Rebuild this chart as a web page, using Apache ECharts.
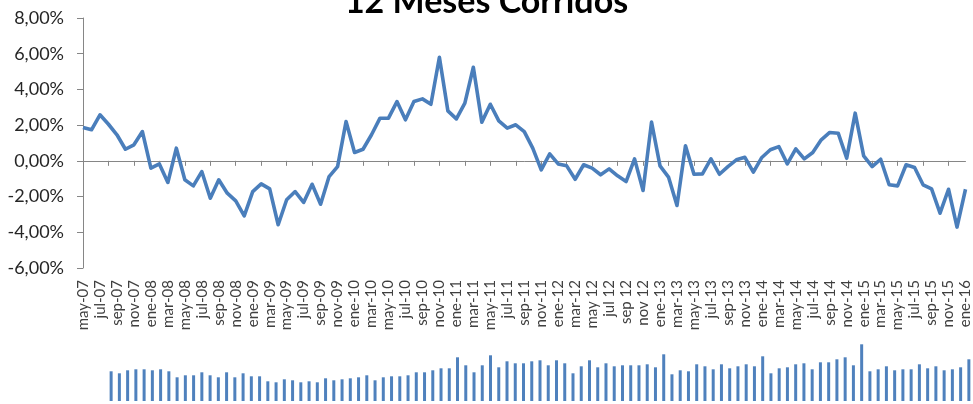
<!DOCTYPE html>
<html>
<head>
<meta charset="utf-8">
<script src="https://cdn.jsdelivr.net/npm/echarts@6/dist/echarts.min.js"></script>
<style>
  html, body { margin: 0; padding: 0; background: #fff; }
  #chart { width: 973px; height: 404px; }
</style>
</head>
<body>
<div id="chart"></div>
<script>
// meses en español, la serie va de may-07 a ene-16
var mesesNombre = ['ene', 'feb', 'mar', 'abr', 'may', 'jun', 'jul', 'ago', 'sep', 'oct', 'nov', 'dic']
var anios = ['07', '08', '09', '10', '11', '12', '13', '14', '15', '16']

// variacion 12 meses corridos (%)
var variacion = [
  1.87, 1.74, 2.58, 2.05, 1.46, 0.65, 0.90, 1.64, -0.41, -0.17,
  -1.21, 0.71, -1.06, -1.40, -0.60, -2.09, -1.06, -1.81, -2.24, -3.08,
  -1.72, -1.29, -1.57, -3.58, -2.18, -1.72, -2.33, -1.31, -2.43, -0.88,
  -0.32, 2.20, 0.47, 0.65, 1.46, 2.39, 2.39, 3.32, 2.30, 3.32,
  3.47, 3.17, 5.80, 2.80, 2.35, 3.23, 5.24, 2.17, 3.17, 2.24,
  1.83, 2.02, 1.64, 0.71, -0.50, 0.39, -0.17, -0.28, -1.03, -0.22,
  -0.41, -0.78, -0.45, -0.84, -1.16, 0.11, -1.66, 2.17, -0.28, -0.91,
  -2.50, 0.84, -0.75, -0.73, 0.11, -0.75, -0.32, 0.06, 0.20, -0.63,
  0.19, 0.62, 0.80, -0.17, 0.67, 0.11, 0.47, 1.18, 1.59, 1.55,
  0.15, 2.67, 0.28, -0.32, 0.09, -1.34, -1.40, -0.22, -0.37, -1.34,
  -1.57, -2.93, -1.59, -3.71, -1.59
]

// grafico de barras pequeño de abajo (valores relativos)
var barras = [
  29.7, 27.7, 30.7, 31.7, 31.7, 30.7, 31.7, 29.7, 23.7, 25.7,
  25.7, 28.7, 25.7, 23.7, 28.7, 23.7, 27.7, 24.7, 24.7, 19.7,
  18.7, 21.7, 20.7, 18.7, 19.7, 18.7, 22.7, 20.7, 21.7, 22.7,
  23.7, 25.7, 20.7, 23.7, 24.7, 24.7, 25.7, 28.7, 28.7, 30.7,
  32.7, 32.7, 43.7, 35.7, 28.7, 35.7, 45.7, 33.7, 39.7, 37.7,
  37.7, 39.7, 40.7, 35.7, 40.7, 37.7, 27.7, 34.7, 40.7, 33.7,
  37.7, 34.7, 35.7, 35.7, 35.7, 36.7, 33.7, 46.7, 26.7, 30.7,
  29.7, 36.7, 34.7, 31.7, 36.7, 32.7, 34.7, 36.7, 34.7, 44.7,
  27.7, 32.7, 33.7, 36.7, 37.7, 31.7, 38.7, 38.7, 41.7, 43.7,
  35.7, 56.7, 29.7, 31.7, 34.7, 30.7, 31.7, 31.7, 36.7, 32.7,
  34.7, 30.7, 31.7, 33.7, 41.7
]

var categorias = []
for (var a = 0; a < anios.length; a++) {
  for (var m = 0; m < 12; m++) {
    if (a === 0 && m < 4) continue
    if (a === anios.length - 1 && m > 0) continue
    // en 2012 el excel trae las etiquetas con espacio
    var sep = (anios[a] === '12' && m >= 4) ? ' ' : '-'
    categorias.push(mesesNombre[m] + sep + anios[a])
  }
}
var catBarras = categorias.slice(0, barras.length)

var azul = '#4a7ebb'
var gris = '#868686'

var option = {
  animation: false,
  graphic: [{
    type: 'text',
    left: 'center',
    top: -15,
    style: {
      text: '12 Meses Corridos',
      font: 'bold 34px Lato',
      fill: '#000'
    }
  }],
  grid: [
    { left: 83, right: 5, top: 18, bottom: 136 },
    { left: 107, right: 0, top: 341, bottom: 3 }
  ],
  xAxis: [
    {
      type: 'category',
      gridIndex: 0,
      data: categorias,
      boundaryGap: false,
      position: 'bottom',
      axisLine: { show: false, onZero: false },
      axisTick: { show: false },
      axisLabel: {
        interval: 1,
        rotate: 90,
        margin: 12,
        fontFamily: 'Lato',
        fontSize: 15,
        color: '#404040'
      }
    },
    {
      type: 'category',
      gridIndex: 0,
      data: categorias,
      boundaryGap: false,
      position: 'top',
      axisLine: { show: true, onZero: true, lineStyle: { color: gris, width: 1 } },
      axisTick: { show: true, inside: true, interval: 2, length: 5, lineStyle: { color: gris } },
      axisLabel: { show: false }
    },
    {
      type: 'category',
      gridIndex: 1,
      data: catBarras,
      show: false
    }
  ],
  yAxis: [
    {
      type: 'value',
      gridIndex: 0,
      min: -6,
      max: 8,
      interval: 2,
      axisLine: { show: true, lineStyle: { color: gris } },
      axisTick: { show: true, length: 6, lineStyle: { color: gris } },
      splitLine: { show: false },
      axisLabel: {
        margin: 19,
        fontFamily: 'Lato',
        fontSize: 18,
        color: '#262626',
        formatter: function (v) {
          return v.toFixed(2).replace('.', ',') + '%'
        }
      }
    },
    {
      type: 'value',
      gridIndex: 1,
      min: 0,
      max: 60,
      show: false
    }
  ],
  series: [
    {
      name: '12 Meses Corridos',
      type: 'line',
      xAxisIndex: 0,
      yAxisIndex: 0,
      data: variacion,
      symbol: 'none',
      lineStyle: { color: azul, width: 3.6, join: 'round' }
    },
    {
      name: 'barras',
      type: 'bar',
      xAxisIndex: 2,
      yAxisIndex: 1,
      data: barras,
      barWidth: 3,
      itemStyle: { color: '#4f81bd' }
    }
  ]
}

var myChart = echarts.init(document.getElementById('chart'))
myChart.setOption(option)
</script>
</body>
</html>
